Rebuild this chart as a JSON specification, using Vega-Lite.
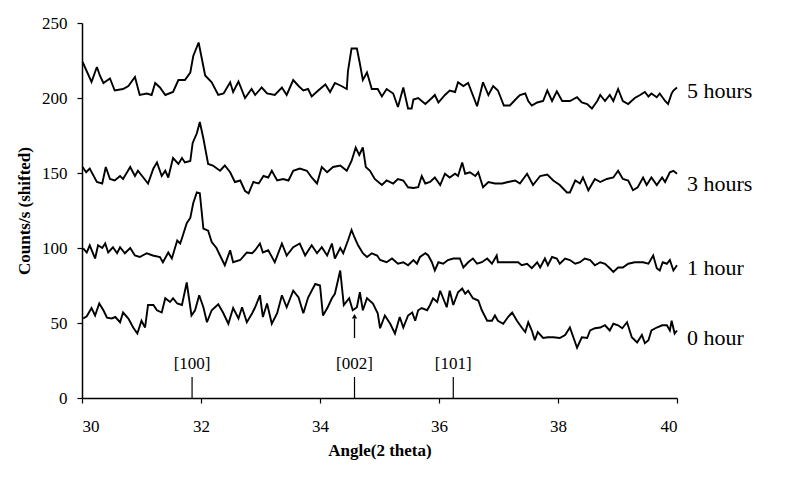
{
  "$schema": "https://vega.github.io/schema/vega-lite/v6.json",
  "width": 595,
  "height": 375,
  "autosize": {"type": "none"},
  "padding": {"left": 82, "top": 23, "right": 109, "bottom": 82},
  "background": "white",
  "config": {
    "view": {"stroke": null},
    "font": "Liberation Serif",
    "axis": {"grid": false, "domainColor": "black", "tickColor": "black", "domainWidth": 1.5, "tickWidth": 1.2, "labelColor": "black", "titleColor": "black", "labelFont": "Liberation Serif", "titleFont": "Liberation Serif"}
  },
  "datasets": {
    "traces": [
      {"s":"5h","x":30.01,"y":224},{"s":"5h","x":30.16,"y":210.7},{"s":"5h","x":30.25,"y":220.7},{"s":"5h","x":30.30,"y":215},{"s":"5h","x":30.36,"y":210},{"s":"5h","x":30.47,"y":213},{"s":"5h","x":30.55,"y":205},{"s":"5h","x":30.69,"y":206},{"s":"5h","x":30.78,"y":208},{"s":"5h","x":30.89,"y":214},{"s":"5h","x":30.97,"y":202},{"s":"5h","x":31.09,"y":203},{"s":"5h","x":31.17,"y":202},{"s":"5h","x":31.23,"y":210},{"s":"5h","x":31.31,"y":207},{"s":"5h","x":31.40,"y":202},{"s":"5h","x":31.53,"y":204},{"s":"5h","x":31.62,"y":212},{"s":"5h","x":31.73,"y":212},{"s":"5h","x":31.82,"y":217},{"s":"5h","x":31.87,"y":228},{"s":"5h","x":31.96,"y":237},{"s":"5h","x":32.01,"y":227},{"s":"5h","x":32.07,"y":215},{"s":"5h","x":32.18,"y":210.5},{"s":"5h","x":32.29,"y":202},{"s":"5h","x":32.38,"y":203},{"s":"5h","x":32.49,"y":210.5},{"s":"5h","x":32.54,"y":204},{"s":"5h","x":32.63,"y":211},{"s":"5h","x":32.74,"y":200},{"s":"5h","x":32.85,"y":206},{"s":"5h","x":32.91,"y":202},{"s":"5h","x":33.02,"y":207},{"s":"5h","x":33.11,"y":203},{"s":"5h","x":33.24,"y":202},{"s":"5h","x":33.36,"y":207},{"s":"5h","x":33.44,"y":202},{"s":"5h","x":33.55,"y":212},{"s":"5h","x":33.64,"y":208},{"s":"5h","x":33.72,"y":205},{"s":"5h","x":33.80,"y":206},{"s":"5h","x":33.86,"y":201},{"s":"5h","x":33.97,"y":205},{"s":"5h","x":34.09,"y":209},{"s":"5h","x":34.17,"y":204},{"s":"5h","x":34.25,"y":210},{"s":"5h","x":34.36,"y":208},{"s":"5h","x":34.45,"y":206},{"s":"5h","x":34.47,"y":218},{"s":"5h","x":34.53,"y":233},{"s":"5h","x":34.62,"y":233},{"s":"5h","x":34.67,"y":223},{"s":"5h","x":34.72,"y":212},{"s":"5h","x":34.79,"y":217},{"s":"5h","x":34.87,"y":206},{"s":"5h","x":34.97,"y":206},{"s":"5h","x":35.04,"y":201},{"s":"5h","x":35.12,"y":206},{"s":"5h","x":35.23,"y":203},{"s":"5h","x":35.31,"y":194},{"s":"5h","x":35.40,"y":207},{"s":"5h","x":35.48,"y":193},{"s":"5h","x":35.54,"y":193},{"s":"5h","x":35.57,"y":199},{"s":"5h","x":35.65,"y":200},{"s":"5h","x":35.77,"y":196},{"s":"5h","x":35.88,"y":200},{"s":"5h","x":35.93,"y":202},{"s":"5h","x":35.99,"y":197},{"s":"5h","x":36.10,"y":202},{"s":"5h","x":36.18,"y":205},{"s":"5h","x":36.27,"y":204},{"s":"5h","x":36.32,"y":210.5},{"s":"5h","x":36.41,"y":208},{"s":"5h","x":36.49,"y":210},{"s":"5h","x":36.64,"y":194.5},{"s":"5h","x":36.74,"y":210.5},{"s":"5h","x":36.83,"y":202},{"s":"5h","x":36.91,"y":208},{"s":"5h","x":36.99,"y":205},{"s":"5h","x":37.09,"y":195},{"s":"5h","x":37.19,"y":195},{"s":"5h","x":37.31,"y":200},{"s":"5h","x":37.36,"y":202},{"s":"5h","x":37.45,"y":203},{"s":"5h","x":37.50,"y":198},{"s":"5h","x":37.56,"y":195},{"s":"5h","x":37.65,"y":197},{"s":"5h","x":37.75,"y":198},{"s":"5h","x":37.82,"y":205},{"s":"5h","x":37.90,"y":198},{"s":"5h","x":37.98,"y":204.5},{"s":"5h","x":38.07,"y":198},{"s":"5h","x":38.20,"y":198},{"s":"5h","x":38.32,"y":200.5},{"s":"5h","x":38.40,"y":197},{"s":"5h","x":38.49,"y":196},{"s":"5h","x":38.57,"y":193},{"s":"5h","x":38.66,"y":198},{"s":"5h","x":38.71,"y":202},{"s":"5h","x":38.79,"y":198},{"s":"5h","x":38.87,"y":202},{"s":"5h","x":38.93,"y":198},{"s":"5h","x":39.01,"y":206},{"s":"5h","x":39.09,"y":198},{"s":"5h","x":39.18,"y":196},{"s":"5h","x":39.29,"y":200},{"s":"5h","x":39.38,"y":202},{"s":"5h","x":39.46,"y":204},{"s":"5h","x":39.52,"y":201},{"s":"5h","x":39.57,"y":203},{"s":"5h","x":39.66,"y":200.5},{"s":"5h","x":39.71,"y":203},{"s":"5h","x":39.80,"y":198},{"s":"5h","x":39.85,"y":196},{"s":"5h","x":39.91,"y":203},{"s":"5h","x":39.94,"y":205},{"s":"5h","x":40.0,"y":207},
      {"s":"3h","x":30.01,"y":154},{"s":"3h","x":30.07,"y":150.5},{"s":"3h","x":30.13,"y":153},{"s":"3h","x":30.25,"y":144},{"s":"3h","x":30.34,"y":143},{"s":"3h","x":30.40,"y":154},{"s":"3h","x":30.47,"y":146},{"s":"3h","x":30.55,"y":145},{"s":"3h","x":30.64,"y":148},{"s":"3h","x":30.69,"y":146},{"s":"3h","x":30.81,"y":154},{"s":"3h","x":30.89,"y":148},{"s":"3h","x":30.94,"y":151.5},{"s":"3h","x":31.03,"y":147},{"s":"3h","x":31.11,"y":143},{"s":"3h","x":31.20,"y":153},{"s":"3h","x":31.26,"y":157},{"s":"3h","x":31.34,"y":148},{"s":"3h","x":31.40,"y":151.5},{"s":"3h","x":31.45,"y":147},{"s":"3h","x":31.53,"y":160},{"s":"3h","x":31.62,"y":156},{"s":"3h","x":31.68,"y":160},{"s":"3h","x":31.73,"y":157},{"s":"3h","x":31.82,"y":158},{"s":"3h","x":31.86,"y":170},{"s":"3h","x":31.93,"y":176.5},{"s":"3h","x":31.98,"y":184},{"s":"3h","x":32.04,"y":173},{"s":"3h","x":32.12,"y":156},{"s":"3h","x":32.20,"y":155},{"s":"3h","x":32.32,"y":151.5},{"s":"3h","x":32.40,"y":155},{"s":"3h","x":32.49,"y":150.5},{"s":"3h","x":32.57,"y":144},{"s":"3h","x":32.66,"y":145},{"s":"3h","x":32.74,"y":138},{"s":"3h","x":32.80,"y":136.5},{"s":"3h","x":32.88,"y":144},{"s":"3h","x":32.97,"y":143},{"s":"3h","x":33.05,"y":148},{"s":"3h","x":33.13,"y":147},{"s":"3h","x":33.19,"y":151.5},{"s":"3h","x":33.28,"y":145},{"s":"3h","x":33.38,"y":146},{"s":"3h","x":33.47,"y":145},{"s":"3h","x":33.55,"y":151.5},{"s":"3h","x":33.66,"y":153},{"s":"3h","x":33.78,"y":151.5},{"s":"3h","x":33.86,"y":147},{"s":"3h","x":33.95,"y":143},{"s":"3h","x":34.03,"y":154},{"s":"3h","x":34.12,"y":150.5},{"s":"3h","x":34.22,"y":154},{"s":"3h","x":34.34,"y":155},{"s":"3h","x":34.45,"y":151.5},{"s":"3h","x":34.53,"y":158},{"s":"3h","x":34.60,"y":167},{"s":"3h","x":34.66,"y":162},{"s":"3h","x":34.72,"y":167},{"s":"3h","x":34.77,"y":154},{"s":"3h","x":34.84,"y":151.5},{"s":"3h","x":34.92,"y":146},{"s":"3h","x":35.04,"y":142},{"s":"3h","x":35.12,"y":145},{"s":"3h","x":35.23,"y":143},{"s":"3h","x":35.31,"y":146},{"s":"3h","x":35.40,"y":145},{"s":"3h","x":35.48,"y":140.5},{"s":"3h","x":35.57,"y":140},{"s":"3h","x":35.65,"y":140.5},{"s":"3h","x":35.71,"y":148},{"s":"3h","x":35.77,"y":143},{"s":"3h","x":35.85,"y":144},{"s":"3h","x":35.93,"y":147},{"s":"3h","x":36.02,"y":142},{"s":"3h","x":36.10,"y":149.5},{"s":"3h","x":36.18,"y":147},{"s":"3h","x":36.27,"y":149.5},{"s":"3h","x":36.32,"y":148},{"s":"3h","x":36.39,"y":157},{"s":"3h","x":36.44,"y":149.5},{"s":"3h","x":36.52,"y":150.5},{"s":"3h","x":36.61,"y":148},{"s":"3h","x":36.66,"y":150.5},{"s":"3h","x":36.74,"y":140.5},{"s":"3h","x":36.83,"y":144},{"s":"3h","x":36.94,"y":143},{"s":"3h","x":37.06,"y":143},{"s":"3h","x":37.16,"y":144},{"s":"3h","x":37.28,"y":145},{"s":"3h","x":37.36,"y":143},{"s":"3h","x":37.48,"y":149.5},{"s":"3h","x":37.58,"y":142},{"s":"3h","x":37.70,"y":148},{"s":"3h","x":37.82,"y":149},{"s":"3h","x":37.92,"y":145},{"s":"3h","x":38.03,"y":142},{"s":"3h","x":38.15,"y":137},{"s":"3h","x":38.20,"y":137},{"s":"3h","x":38.29,"y":145},{"s":"3h","x":38.37,"y":143},{"s":"3h","x":38.42,"y":147},{"s":"3h","x":38.51,"y":138.5},{"s":"3h","x":38.62,"y":146},{"s":"3h","x":38.71,"y":144},{"s":"3h","x":38.82,"y":146},{"s":"3h","x":38.93,"y":147},{"s":"3h","x":39.01,"y":151.5},{"s":"3h","x":39.09,"y":146},{"s":"3h","x":39.18,"y":145},{"s":"3h","x":39.26,"y":138.5},{"s":"3h","x":39.34,"y":140.5},{"s":"3h","x":39.43,"y":147},{"s":"3h","x":39.49,"y":142},{"s":"3h","x":39.57,"y":147},{"s":"3h","x":39.66,"y":142},{"s":"3h","x":39.75,"y":147},{"s":"3h","x":39.80,"y":144},{"s":"3h","x":39.88,"y":150.5},{"s":"3h","x":39.94,"y":151.5},{"s":"3h","x":40.0,"y":149.5},
      {"s":"1h","x":30.02,"y":99.8},{"s":"1h","x":30.08,"y":97},{"s":"1h","x":30.13,"y":101.8},{"s":"1h","x":30.22,"y":93},{"s":"1h","x":30.27,"y":101.8},{"s":"1h","x":30.34,"y":100},{"s":"1h","x":30.39,"y":103},{"s":"1h","x":30.44,"y":97},{"s":"1h","x":30.52,"y":100.5},{"s":"1h","x":30.59,"y":96.5},{"s":"1h","x":30.64,"y":100.5},{"s":"1h","x":30.72,"y":96.5},{"s":"1h","x":30.81,"y":100},{"s":"1h","x":30.89,"y":95},{"s":"1h","x":30.97,"y":94},{"s":"1h","x":31.09,"y":96.5},{"s":"1h","x":31.19,"y":95},{"s":"1h","x":31.31,"y":94},{"s":"1h","x":31.36,"y":90.5},{"s":"1h","x":31.45,"y":97},{"s":"1h","x":31.51,"y":93},{"s":"1h","x":31.60,"y":105},{"s":"1h","x":31.65,"y":103},{"s":"1h","x":31.68,"y":106.5},{"s":"1h","x":31.76,"y":116.5},{"s":"1h","x":31.82,"y":120},{"s":"1h","x":31.87,"y":130},{"s":"1h","x":31.93,"y":137},{"s":"1h","x":31.98,"y":136.5},{"s":"1h","x":32.04,"y":113},{"s":"1h","x":32.12,"y":111.5},{"s":"1h","x":32.18,"y":104},{"s":"1h","x":32.26,"y":100},{"s":"1h","x":32.32,"y":95},{"s":"1h","x":32.40,"y":88.5},{"s":"1h","x":32.49,"y":98.5},{"s":"1h","x":32.54,"y":90.5},{"s":"1h","x":32.66,"y":92},{"s":"1h","x":32.77,"y":97},{"s":"1h","x":32.86,"y":96.5},{"s":"1h","x":32.91,"y":98.5},{"s":"1h","x":32.99,"y":103},{"s":"1h","x":33.04,"y":97},{"s":"1h","x":33.13,"y":98.5},{"s":"1h","x":33.24,"y":90.5},{"s":"1h","x":33.36,"y":103},{"s":"1h","x":33.44,"y":95},{"s":"1h","x":33.55,"y":100.5},{"s":"1h","x":33.66,"y":103},{"s":"1h","x":33.75,"y":95},{"s":"1h","x":33.86,"y":101.8},{"s":"1h","x":33.95,"y":96.5},{"s":"1h","x":34.03,"y":100.5},{"s":"1h","x":34.12,"y":95},{"s":"1h","x":34.20,"y":103},{"s":"1h","x":34.25,"y":93},{"s":"1h","x":34.34,"y":100},{"s":"1h","x":34.39,"y":96.5},{"s":"1h","x":34.47,"y":105},{"s":"1h","x":34.53,"y":112},{"s":"1h","x":34.58,"y":107},{"s":"1h","x":34.64,"y":101.8},{"s":"1h","x":34.72,"y":96.5},{"s":"1h","x":34.79,"y":94},{"s":"1h","x":34.87,"y":96.5},{"s":"1h","x":34.96,"y":95},{"s":"1h","x":35.01,"y":92},{"s":"1h","x":35.12,"y":90.5},{"s":"1h","x":35.21,"y":93},{"s":"1h","x":35.31,"y":89.5},{"s":"1h","x":35.40,"y":90.5},{"s":"1h","x":35.48,"y":88.5},{"s":"1h","x":35.57,"y":92},{"s":"1h","x":35.63,"y":89.5},{"s":"1h","x":35.68,"y":94},{"s":"1h","x":35.77,"y":96.5},{"s":"1h","x":35.82,"y":95},{"s":"1h","x":35.88,"y":90.5},{"s":"1h","x":35.93,"y":85},{"s":"1h","x":35.99,"y":90.5},{"s":"1h","x":36.07,"y":89.5},{"s":"1h","x":36.15,"y":92},{"s":"1h","x":36.24,"y":93},{"s":"1h","x":36.35,"y":93},{"s":"1h","x":36.41,"y":87},{"s":"1h","x":36.49,"y":90.5},{"s":"1h","x":36.57,"y":93},{"s":"1h","x":36.64,"y":89.5},{"s":"1h","x":36.72,"y":90.5},{"s":"1h","x":36.81,"y":93},{"s":"1h","x":36.89,"y":89.5},{"s":"1h","x":36.97,"y":95},{"s":"1h","x":36.99,"y":90.5},{"s":"1h","x":37.11,"y":90.5},{"s":"1h","x":37.23,"y":90.5},{"s":"1h","x":37.33,"y":90.5},{"s":"1h","x":37.39,"y":88.5},{"s":"1h","x":37.48,"y":89.5},{"s":"1h","x":37.56,"y":86.5},{"s":"1h","x":37.65,"y":90.5},{"s":"1h","x":37.70,"y":87},{"s":"1h","x":37.78,"y":93},{"s":"1h","x":37.83,"y":88.5},{"s":"1h","x":37.90,"y":94},{"s":"1h","x":37.98,"y":93},{"s":"1h","x":38.03,"y":89.5},{"s":"1h","x":38.12,"y":93},{"s":"1h","x":38.20,"y":92},{"s":"1h","x":38.29,"y":89.5},{"s":"1h","x":38.37,"y":90.5},{"s":"1h","x":38.45,"y":93},{"s":"1h","x":38.54,"y":92},{"s":"1h","x":38.62,"y":88.5},{"s":"1h","x":38.71,"y":90.5},{"s":"1h","x":38.79,"y":89.5},{"s":"1h","x":38.87,"y":86.5},{"s":"1h","x":38.93,"y":84},{"s":"1h","x":39.01,"y":87},{"s":"1h","x":39.09,"y":87},{"s":"1h","x":39.18,"y":89.5},{"s":"1h","x":39.29,"y":90.5},{"s":"1h","x":39.43,"y":90.5},{"s":"1h","x":39.52,"y":89.5},{"s":"1h","x":39.60,"y":95},{"s":"1h","x":39.66,"y":86.5},{"s":"1h","x":39.71,"y":85},{"s":"1h","x":39.76,"y":90.5},{"s":"1h","x":39.83,"y":89.5},{"s":"1h","x":39.88,"y":92},{"s":"1h","x":39.94,"y":85},{"s":"1h","x":40.0,"y":88.5},
      {"s":"0h","x":30.02,"y":53},{"s":"0h","x":30.08,"y":54.5},{"s":"0h","x":30.16,"y":60},{"s":"0h","x":30.22,"y":55},{"s":"0h","x":30.29,"y":63},{"s":"0h","x":30.36,"y":58.5},{"s":"0h","x":30.42,"y":53.5},{"s":"0h","x":30.50,"y":53},{"s":"0h","x":30.56,"y":54},{"s":"0h","x":30.64,"y":50.5},{"s":"0h","x":30.69,"y":57},{"s":"0h","x":30.78,"y":53},{"s":"0h","x":30.86,"y":47},{"s":"0h","x":30.93,"y":43},{"s":"0h","x":31.00,"y":51.5},{"s":"0h","x":31.06,"y":47},{"s":"0h","x":31.11,"y":62},{"s":"0h","x":31.20,"y":62},{"s":"0h","x":31.26,"y":58.5},{"s":"0h","x":31.34,"y":57},{"s":"0h","x":31.40,"y":66.5},{"s":"0h","x":31.48,"y":64},{"s":"0h","x":31.53,"y":66.5},{"s":"0h","x":31.60,"y":63},{"s":"0h","x":31.68,"y":62},{"s":"0h","x":31.76,"y":77},{"s":"0h","x":31.84,"y":55},{"s":"0h","x":31.90,"y":58.5},{"s":"0h","x":31.97,"y":68.5},{"s":"0h","x":32.04,"y":60.5},{"s":"0h","x":32.10,"y":50.5},{"s":"0h","x":32.18,"y":58.5},{"s":"0h","x":32.29,"y":62.5},{"s":"0h","x":32.37,"y":57},{"s":"0h","x":32.46,"y":49.5},{"s":"0h","x":32.54,"y":60},{"s":"0h","x":32.63,"y":53},{"s":"0h","x":32.69,"y":60.5},{"s":"0h","x":32.77,"y":50.5},{"s":"0h","x":32.86,"y":56.5},{"s":"0h","x":32.91,"y":60.5},{"s":"0h","x":32.99,"y":68.5},{"s":"0h","x":33.04,"y":54},{"s":"0h","x":33.11,"y":63},{"s":"0h","x":33.19,"y":49.5},{"s":"0h","x":33.28,"y":56.5},{"s":"0h","x":33.36,"y":68.5},{"s":"0h","x":33.44,"y":60.5},{"s":"0h","x":33.55,"y":71.5},{"s":"0h","x":33.64,"y":67},{"s":"0h","x":33.72,"y":56.5},{"s":"0h","x":33.80,"y":67},{"s":"0h","x":33.92,"y":76},{"s":"0h","x":34.00,"y":75},{"s":"0h","x":34.05,"y":55},{"s":"0h","x":34.13,"y":60.5},{"s":"0h","x":34.20,"y":66.5},{"s":"0h","x":34.25,"y":69.5},{"s":"0h","x":34.34,"y":85},{"s":"0h","x":34.40,"y":62},{"s":"0h","x":34.49,"y":66.5},{"s":"0h","x":34.55,"y":58.5},{"s":"0h","x":34.62,"y":60.5},{"s":"0h","x":34.67,"y":70.5},{"s":"0h","x":34.72,"y":58.5},{"s":"0h","x":34.79,"y":66.5},{"s":"0h","x":34.89,"y":63},{"s":"0h","x":34.97,"y":56.5},{"s":"0h","x":35.01,"y":46.5},{"s":"0h","x":35.09,"y":55},{"s":"0h","x":35.18,"y":49.5},{"s":"0h","x":35.26,"y":43},{"s":"0h","x":35.34,"y":54},{"s":"0h","x":35.40,"y":47},{"s":"0h","x":35.48,"y":55},{"s":"0h","x":35.55,"y":57},{"s":"0h","x":35.60,"y":51.5},{"s":"0h","x":35.65,"y":58.5},{"s":"0h","x":35.71,"y":60},{"s":"0h","x":35.80,"y":58.5},{"s":"0h","x":35.85,"y":62},{"s":"0h","x":35.90,"y":66.5},{"s":"0h","x":35.97,"y":64},{"s":"0h","x":36.02,"y":71.5},{"s":"0h","x":36.07,"y":66.5},{"s":"0h","x":36.13,"y":60.5},{"s":"0h","x":36.18,"y":71.5},{"s":"0h","x":36.24,"y":62},{"s":"0h","x":36.32,"y":70.5},{"s":"0h","x":36.39,"y":73},{"s":"0h","x":36.44,"y":69.5},{"s":"0h","x":36.49,"y":71.5},{"s":"0h","x":36.57,"y":66.5},{"s":"0h","x":36.66,"y":65},{"s":"0h","x":36.72,"y":58.5},{"s":"0h","x":36.81,"y":51.5},{"s":"0h","x":36.89,"y":51.5},{"s":"0h","x":36.94,"y":55},{"s":"0h","x":36.99,"y":51.5},{"s":"0h","x":37.08,"y":49.5},{"s":"0h","x":37.16,"y":54},{"s":"0h","x":37.23,"y":57},{"s":"0h","x":37.31,"y":51.5},{"s":"0h","x":37.39,"y":47},{"s":"0h","x":37.45,"y":44},{"s":"0h","x":37.50,"y":50.5},{"s":"0h","x":37.56,"y":45},{"s":"0h","x":37.61,"y":38.5},{"s":"0h","x":37.66,"y":44},{"s":"0h","x":37.75,"y":40},{"s":"0h","x":37.83,"y":40.5},{"s":"0h","x":37.92,"y":40.5},{"s":"0h","x":38.03,"y":40},{"s":"0h","x":38.12,"y":42},{"s":"0h","x":38.20,"y":47},{"s":"0h","x":38.32,"y":33.5},{"s":"0h","x":38.40,"y":40.5},{"s":"0h","x":38.49,"y":40},{"s":"0h","x":38.54,"y":45},{"s":"0h","x":38.62,"y":46.5},{"s":"0h","x":38.71,"y":47},{"s":"0h","x":38.79,"y":48.5},{"s":"0h","x":38.87,"y":45},{"s":"0h","x":38.93,"y":49.5},{"s":"0h","x":39.01,"y":48.5},{"s":"0h","x":39.08,"y":46.5},{"s":"0h","x":39.16,"y":50.5},{"s":"0h","x":39.24,"y":40.5},{"s":"0h","x":39.33,"y":37},{"s":"0h","x":39.41,"y":42},{"s":"0h","x":39.46,"y":36.5},{"s":"0h","x":39.52,"y":38.5},{"s":"0h","x":39.57,"y":45},{"s":"0h","x":39.66,"y":47},{"s":"0h","x":39.75,"y":48.5},{"s":"0h","x":39.83,"y":48.5},{"s":"0h","x":39.88,"y":45},{"s":"0h","x":39.91,"y":51.5},{"s":"0h","x":39.96,"y":43},{"s":"0h","x":40.0,"y":45}
    ],
    "labels": [
      {"label": "5 hours", "x": 40, "y": 205},
      {"label": "3 hours", "x": 40, "y": 142.5},
      {"label": "1 hour", "x": 40, "y": 87},
      {"label": "0 hour", "x": 40, "y": 40}
    ],
    "peaks": [
      {"hkl": "[100]", "x": 31.85, "y0": 0, "y1": 14, "ty": 23},
      {"hkl": "[002]", "x": 34.58, "y0": 0, "y1": 14, "ty": 23},
      {"hkl": "[101]", "x": 36.24, "y0": 0, "y1": 14, "ty": 23}
    ],
    "arrow": [
      {"x": 34.58, "y0": 40, "y1": 53, "tip": 54.5}
    ]
  },
  "layer": [
    {
      "data": {"name": "traces"},
      "mark": {"type": "line", "color": "black", "strokeWidth": 1.9, "strokeJoin": "miter", "strokeMiterLimit": 3},
      "encoding": {
        "x": {"field": "x", "type": "quantitative", "scale": {"domain": [30, 40], "nice": false, "zero": false},
              "axis": {"title": "Angle(2 theta)", "values": [30, 32, 34, 36, 38, 40], "format": "d", "tickSize": 5, "labelPadding": 15, "labelFontSize": 17, "titleFontSize": 17, "titleFontWeight": "bold", "titlePadding": 8}},
        "y": {"field": "y", "type": "quantitative", "scale": {"domain": [0, 250], "nice": false},
              "axis": {"title": "Counts/s (shifted)", "values": [0, 50, 100, 150, 200, 250], "format": "d", "tickSize": 5, "labelPadding": 10, "labelFontSize": 17, "titleFontSize": 17, "titleFontWeight": "bold", "titlePadding": 8}},
        "detail": {"field": "s", "type": "nominal"}
      }
    },
    {
      "data": {"name": "labels"},
      "mark": {"type": "text", "align": "left", "baseline": "middle", "dx": 10, "fontSize": 22, "font": "Liberation Serif", "color": "black"},
      "encoding": {
        "x": {"field": "x", "type": "quantitative"},
        "y": {"field": "y", "type": "quantitative"},
        "text": {"field": "label"}
      }
    },
    {
      "data": {"name": "peaks"},
      "mark": {"type": "rule", "color": "black", "strokeWidth": 1.2},
      "encoding": {
        "x": {"field": "x", "type": "quantitative"},
        "y": {"field": "y0", "type": "quantitative"},
        "y2": {"field": "y1"}
      }
    },
    {
      "data": {"name": "peaks"},
      "mark": {"type": "text", "align": "center", "baseline": "middle", "fontSize": 17, "font": "Liberation Serif", "color": "black"},
      "encoding": {
        "x": {"field": "x", "type": "quantitative"},
        "y": {"field": "ty", "type": "quantitative"},
        "text": {"field": "hkl"}
      }
    },
    {
      "data": {"name": "arrow"},
      "mark": {"type": "rule", "color": "black", "strokeWidth": 1.3},
      "encoding": {
        "x": {"field": "x", "type": "quantitative"},
        "y": {"field": "y0", "type": "quantitative"},
        "y2": {"field": "y1"}
      }
    },
    {
      "data": {"name": "arrow"},
      "mark": {"type": "point", "shape": "triangle-up", "filled": true, "color": "black", "size": 28, "opacity": 1},
      "encoding": {
        "x": {"field": "x", "type": "quantitative"},
        "y": {"field": "tip", "type": "quantitative"}
      }
    }
  ]
}
